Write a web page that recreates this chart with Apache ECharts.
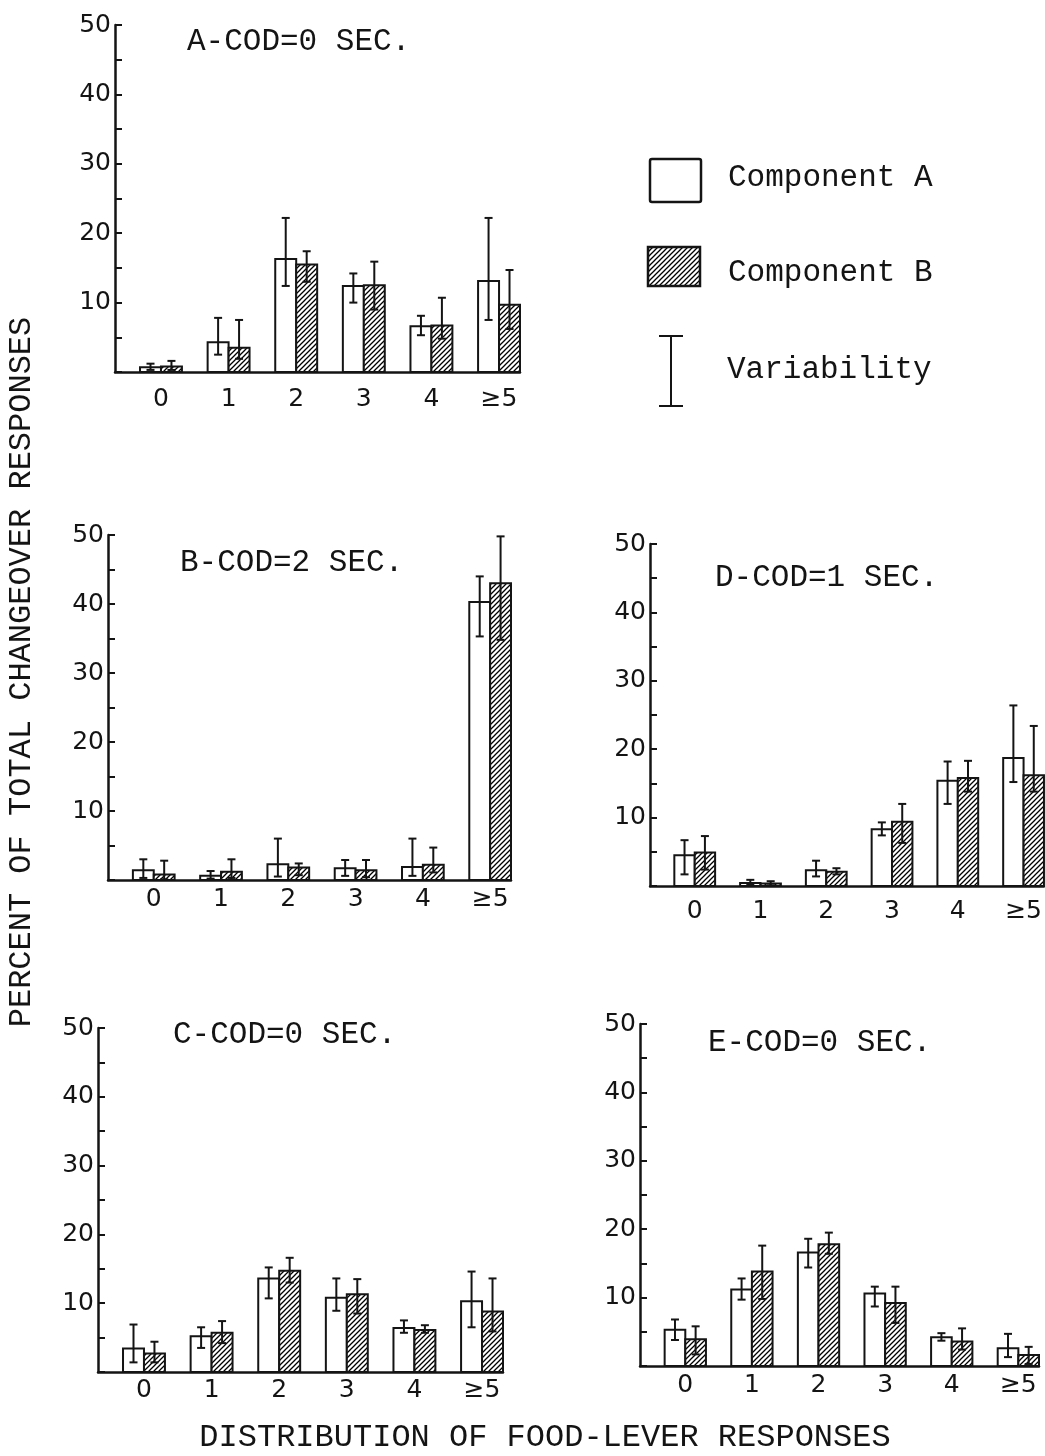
<!DOCTYPE html>
<html>
<head>
<meta charset="utf-8">
<title>Distribution of food-lever responses</title>
<script src="https://cdn.jsdelivr.net/npm/echarts@6/dist/echarts.min.js"></script>
<style>
  html, body { margin: 0; padding: 0; background: #fff; }
  #chart { width: 1045px; height: 1456px; }
</style>
</head>
<body>
<div id="chart"></div>
<script>
// Food-lever response runs between changeovers (0, 1, 2, 3, 4, 5 or more)
const categories = ['0', '1', '2', '3', '4', '≥5'];
const yTicks = [10, 20, 30, 40, 50];

// Panel A: COD = 0 sec.
const codA_compA      = [0.7, 4.3, 16.3, 12.4, 6.6, 13.1];
const codA_compA_low  = [0.3, 2.5, 12.4, 10.0, 5.3, 7.5];
const codA_compA_high = [1.2, 7.8, 22.2, 14.2, 8.1, 22.2];
const codA_compB      = [0.8, 3.5, 15.5, 12.5, 6.7, 9.7];
const codA_compB_low  = [0.3, 1.9, 13.0, 9.0, 4.8, 6.2];
const codA_compB_high = [1.6, 7.5, 17.4, 15.9, 10.7, 14.7];

// Panel B: COD = 2 sec.
const codB_compA      = [1.4, 0.6, 2.3, 1.7, 1.9, 40.3];
const codB_compA_low  = [0.3, 0.2, 0.5, 0.6, 0.6, 35.3];
const codB_compA_high = [3.0, 1.3, 6.0, 2.9, 6.0, 44.0];
const codB_compB      = [0.8, 1.2, 1.8, 1.4, 2.2, 43.0];
const codB_compB_low  = [0.1, 0.3, 0.7, 0.4, 1.1, 34.8];
const codB_compB_high = [2.8, 3.0, 2.4, 2.9, 4.7, 49.8];

// Panel D: COD = 1 sec.
const codD_compA      = [4.5, 0.45, 2.3, 8.3, 15.4, 18.7];
const codD_compA_low  = [1.7, 0.2, 1.4, 7.4, 12.0, 15.2];
const codD_compA_high = [6.7, 0.9, 3.7, 9.3, 18.2, 26.4];
const codD_compB      = [4.9, 0.35, 2.1, 9.4, 15.8, 16.2];
const codD_compB_low  = [2.4, 0.1, 1.7, 6.3, 13.8, 13.8];
const codD_compB_high = [7.3, 0.7, 2.6, 12.0, 18.3, 23.4];

// Panel C: COD = 0 sec.
const codC_compA      = [3.4, 5.2, 13.6, 10.8, 6.4, 10.3];
const codC_compA_low  = [1.4, 3.5, 10.7, 8.9, 5.7, 6.5];
const codC_compA_high = [6.9, 6.5, 15.2, 13.6, 7.5, 14.6];
const codC_compB      = [2.7, 5.7, 14.7, 11.3, 6.1, 8.8];
const codC_compB_low  = [1.4, 4.2, 13.0, 8.5, 5.7, 5.9];
const codC_compB_high = [4.4, 7.4, 16.6, 13.5, 6.8, 13.6];

// Panel E: COD = 0 sec.
const codE_compA      = [5.3, 11.2, 16.6, 10.6, 4.2, 2.6];
const codE_compA_low  = [3.8, 9.7, 14.4, 8.7, 3.7, 1.3];
const codE_compA_high = [6.8, 12.8, 18.6, 11.6, 4.8, 4.7];
const codE_compB      = [3.9, 13.8, 17.8, 9.2, 3.6, 1.6];
const codE_compB_low  = [1.7, 9.8, 16.4, 6.3, 2.4, 0.3];
const codE_compB_high = [5.8, 17.6, 19.5, 11.6, 5.5, 2.8];

const panelTitles = ['A-COD=0 SEC.', 'B-COD=2 SEC.', 'D-COD=1 SEC.', 'C-COD=0 SEC.', 'E-COD=0 SEC.'];

// Panel data, in drawing order
const panels = [
  { a: codA_compA, aLow: codA_compA_low, aHigh: codA_compA_high, b: codA_compB, bLow: codA_compB_low, bHigh: codA_compB_high },
  { a: codB_compA, aLow: codB_compA_low, aHigh: codB_compA_high, b: codB_compB, bLow: codB_compB_low, bHigh: codB_compB_high },
  { a: codD_compA, aLow: codD_compA_low, aHigh: codD_compA_high, b: codD_compB, bLow: codD_compB_low, bHigh: codD_compB_high },
  { a: codC_compA, aLow: codC_compA_low, aHigh: codC_compA_high, b: codC_compB, bLow: codC_compB_low, bHigh: codC_compB_high },
  { a: codE_compA, aLow: codE_compA_low, aHigh: codE_compA_high, b: codE_compB, bLow: codE_compB_low, bHigh: codE_compB_high }
];

// Page layout of each panel
const panelLayout = [
  { grid: { left: 115, top: 25,   width: 405, height: 347 }, title: [187, 42],   labelMargin: 15 },
  { grid: { left: 108, top: 535,  width: 403, height: 345 }, title: [180, 563],  labelMargin: 7 },
  { grid: { left: 650, top: 544,  width: 401, height: 342 }, title: [715, 578],  labelMargin: 13 },
  { grid: { left: 98,  top: 1028, width: 405, height: 344 }, title: [173, 1035], labelMargin: 6 },
  { grid: { left: 640, top: 1024, width: 399, height: 342 }, title: [708, 1043], labelMargin: 7 }
];

const INK = '#141414';
const MONO = '"Liberation Mono", "DejaVu Sans Mono", monospace';
const SANS = '"DejaVu Sans", "Liberation Sans", sans-serif';
const TYPE_FONT = '31px ' + MONO;
const AXIS_TITLE_FONT = '32px ' + MONO;
const BAR_W = 0.31;      // bar width in category units
const X_MIN = -0.68, X_MAX = 5.31;

// Diagonal hatch tile for Component B
function makeHatch() {
  const s = 5;
  const c = document.createElement('canvas');
  c.width = s; c.height = s;
  const g = c.getContext('2d');
  g.fillStyle = '#fff';
  g.fillRect(0, 0, s, s);
  g.strokeStyle = '#000';
  g.lineWidth = 1.3;
  g.beginPath();
  g.moveTo(-1, s + 1); g.lineTo(s + 1, -1);
  g.moveTo(-1, 1); g.lineTo(1, -1);
  g.moveTo(s - 1, s + 1); g.lineTo(s + 1, s - 1);
  g.stroke();
  return c;
}
const hatch = { image: makeHatch(), repeat: 'repeat' };

function barRenderer(side, fill) {
  return function (params, api) {
    const i = api.value(0), v = api.value(1), lo = api.value(2), hi = api.value(3);
    const x0 = side < 0 ? i - BAR_W : i;
    const x1 = side < 0 ? i : i + BAR_W;
    const p0 = api.coord([x0, 0]);
    const p1 = api.coord([x1, v]);
    const cx = (p0[0] + p1[0]) / 2;
    const yl = api.coord([i, lo])[1];
    const yh = api.coord([i, hi])[1];
    const cap = 4;
    const line = { stroke: INK, lineWidth: 2 };
    return {
      type: 'group',
      children: [
        { type: 'rect', shape: { x: p0[0], y: p1[1], width: p1[0] - p0[0], height: p0[1] - p1[1] },
          style: { fill: fill, stroke: INK, lineWidth: 2 } },
        { type: 'line', shape: { x1: cx, y1: yh, x2: cx, y2: yl }, style: line },
        { type: 'line', shape: { x1: cx - cap, y1: yh, x2: cx + cap, y2: yh }, style: line },
        { type: 'line', shape: { x1: cx - cap, y1: yl, x2: cx + cap, y2: yl }, style: line }
      ]
    };
  };
}

const grids = [], xAxes = [], yAxes = [], series = [], graphics = [];

panels.forEach(function (p, k) {
  const L = panelLayout[k];
  grids.push(Object.assign({ containLabel: false }, L.grid));
  xAxes.push({
    type: 'value', gridIndex: k, min: X_MIN, max: X_MAX,
    axisLine: { show: true, onZero: false, lineStyle: { color: INK, width: 2.5 } },
    axisTick: { show: false },
    splitLine: { show: false },
    axisLabel: {
      customValues: categories.map(function (c, i) { return i; }),
      formatter: function (v) { return categories[Math.round(v)]; },
      margin: L.labelMargin, color: INK, fontFamily: SANS, fontSize: 25
    }
  });
  yAxes.push({
    type: 'value', gridIndex: k, min: 0, max: 50, interval: 5,
    axisLine: { show: true, onZero: false, lineStyle: { color: INK, width: 2.5 } },
    axisTick: { show: true, inside: true, length: 7, lineStyle: { color: INK, width: 2 } },
    splitLine: { show: false },
    axisLabel: {
      formatter: function (v) { return yTicks.indexOf(v) >= 0 ? String(v) : ''; },
      margin: 4, color: INK, fontFamily: SANS, fontSize: 25
    }
  });
  series.push({
    type: 'custom', name: 'Component A', xAxisIndex: k, yAxisIndex: k,
    renderItem: barRenderer(-1, '#fff'),
    data: p.a.map(function (v, i) { return [i, v, p.aLow[i], p.aHigh[i]]; })
  });
  series.push({
    type: 'custom', name: 'Component B', xAxisIndex: k, yAxisIndex: k,
    renderItem: barRenderer(1, hatch),
    data: p.b.map(function (v, i) { return [i, v, p.bLow[i], p.bHigh[i]]; })
  });
  graphics.push({
    type: 'text', x: L.title[0], y: L.title[1],
    style: { text: panelTitles[k], fill: INK, font: TYPE_FONT, textVerticalAlign: 'middle' }
  });
});

// Key
graphics.push(
  { type: 'rect', shape: { x: 650, y: 159, width: 51, height: 43, r: 2 },
    style: { fill: '#fff', stroke: INK, lineWidth: 2.5 } },
  { type: 'rect', shape: { x: 648, y: 247, width: 52, height: 39 },
    style: { fill: hatch, stroke: INK, lineWidth: 2.5 } },
  { type: 'line', shape: { x1: 671, y1: 336, x2: 671, y2: 406 }, style: { stroke: INK, lineWidth: 2 } },
  { type: 'line', shape: { x1: 659, y1: 336, x2: 683, y2: 336 }, style: { stroke: INK, lineWidth: 2 } },
  { type: 'line', shape: { x1: 659, y1: 406, x2: 683, y2: 406 }, style: { stroke: INK, lineWidth: 2 } },
  { type: 'text', x: 728, y: 178, style: { text: 'Component A', fill: INK, font: TYPE_FONT, textVerticalAlign: 'middle' } },
  { type: 'text', x: 728, y: 273, style: { text: 'Component B', fill: INK, font: TYPE_FONT, textVerticalAlign: 'middle' } },
  { type: 'text', x: 727, y: 370, style: { text: 'Variability', fill: INK, font: TYPE_FONT, textVerticalAlign: 'middle' } },
  // Shared axis titles
  { type: 'text', x: 22, y: 672, rotation: Math.PI / 2,
    style: { text: 'PERCENT OF TOTAL CHANGEOVER RESPONSES', fill: INK, font: AXIS_TITLE_FONT,
             textAlign: 'center', textVerticalAlign: 'middle' } },
  { type: 'text', x: 545, y: 1438,
    style: { text: 'DISTRIBUTION OF FOOD-LEVER RESPONSES', fill: INK, font: AXIS_TITLE_FONT,
             textAlign: 'center', textVerticalAlign: 'middle' } }
);

const chart = echarts.init(document.getElementById('chart'), null, { renderer: 'canvas' });
chart.setOption({
  backgroundColor: '#fff',
  animation: false,
  grid: grids,
  xAxis: xAxes,
  yAxis: yAxes,
  series: series,
  graphic: graphics
});
</script>
</body>
</html>
